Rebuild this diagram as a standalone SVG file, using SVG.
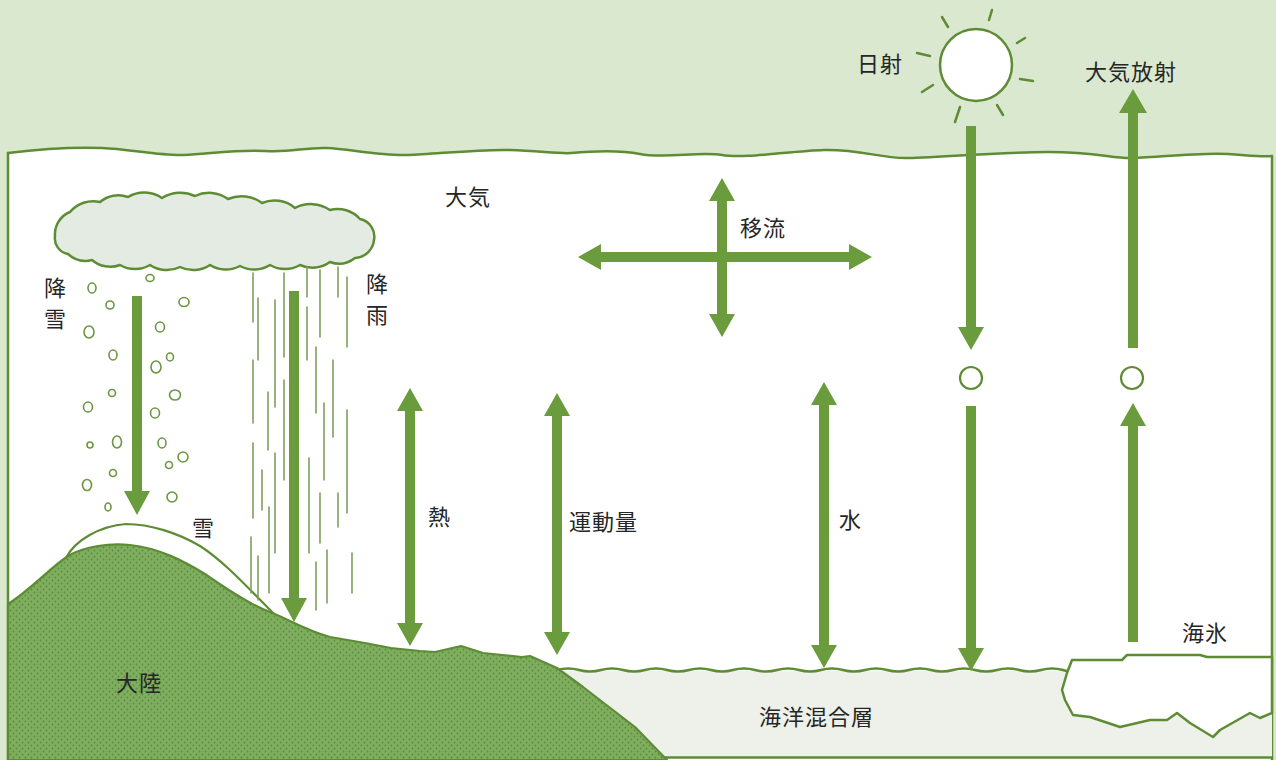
<svg xmlns="http://www.w3.org/2000/svg" width="1276" height="760" viewBox="0 0 1276 760">
  <defs>
    <pattern id="landDots" width="6" height="6" patternUnits="userSpaceOnUse">
      <rect width="6" height="6" fill="#7eae5e"/>
      <circle cx="1.5" cy="1.5" r="0.9" fill="#5a8a3b"/>
      <circle cx="4.5" cy="4.5" r="0.9" fill="#5a8a3b"/>
    </pattern>
    <style>
      .outline { fill: none; stroke: #5e8c35; stroke-width: 2.5; stroke-linejoin: round; stroke-linecap: round; }
      .flow { fill: #6a9c3e; }
      .rain { stroke: #7f9f5f; stroke-width: 1.6; stroke-linecap: round; }
      .flake { fill: #ffffff; stroke: #6a9640; stroke-width: 1.6; }
      .ray { stroke: #5e8c35; stroke-width: 2.5; stroke-linecap: round; }
      .ring { fill: #ffffff; stroke: #5e8c35; stroke-width: 2.2; }
      .label { font-family: "Noto Sans CJK JP", "Noto Sans", sans-serif; font-size: 22px; fill: #262626; letter-spacing: 1px; }
    </style>
  </defs>

  <!-- sky band and outer margin -->
  <rect id="sky" x="0" y="0" width="1276" height="760" fill="#dae8cf"/>

  <!-- atmosphere panel with a wavy upper boundary -->
  <g id="atmosphere">
    <path d="M8,153 C40,149 75,147 102,148 S160,156 184,155 S240,149 265,151 S305,147 327,148 S380,156 408,155 S480,149 510,150 S560,154 571,153 S615,149 640,154 S700,151 722,155 S790,151 824,150 S880,158 905,158 S1000,152 1048,152 S1110,158 1130,158 S1200,152 1228,154 S1262,157 1272,156 L1272,760 L8,760 Z" fill="#ffffff"/>
    <path class="outline" d="M8,153 C40,149 75,147 102,148 S160,156 184,155 S240,149 265,151 S305,147 327,148 S380,156 408,155 S480,149 510,150 S560,154 571,153 S615,149 640,154 S700,151 722,155 S790,151 824,150 S880,158 905,158 S1000,152 1048,152 S1110,158 1130,158 S1200,152 1228,154 S1262,157 1272,156"/>
    <line class="outline" x1="8" y1="153" x2="8" y2="760" stroke-width="2"/>
    <line class="outline" x1="1272" y1="156" x2="1272" y2="760" stroke-width="2"/>
  </g>

  <!-- ocean mixed layer -->
  <g id="ocean">
    <rect x="557" y="671" width="715" height="86" fill="#eef1ea"/>
    <line class="outline" x1="600" y1="757.5" x2="1272" y2="757.5" stroke-width="2"/>
    <path class="outline" stroke-width="2" d="M557,670 q11,-3 22,0 t22,0 t22,0 t22,0 t22,0 t22,0 t22,0 t22,0 t22,0 t22,0 t22,0 t22,0 t22,0 t22,0 t22,0 t22,0 t22,0 t22,0 t22,0 t22,0 t22,0 t22,0 t22,0 L1070,672"/>
  </g>

  <!-- snow cover on the mountain -->
  <g id="snowcap">
    <path d="M66,558 C75,540 100,526 126,524 C150,524 178,533 200,546 C225,562 250,590 274,614 L274,650 L66,650 Z" fill="#ffffff" stroke="#5e8c35" stroke-width="2.2" stroke-linejoin="round"/>
  </g>

  <!-- continent -->
  <g id="continent">
    <path d="M8,604 C30,590 50,568 68,556 C85,546 110,543 130,545 C160,548 185,562 205,574 C225,588 250,605 270,612 C290,620 305,630 330,637 L365,643 L391,648 L420,651 L435,652 L461,646 L483,653 L522,657 L530,656 L557,668 L583,687 L609,707 L635,727 L667,760 L8,760 Z" fill="url(#landDots)" stroke="#5e8c35" stroke-width="2.2" stroke-linejoin="round"/>
  </g>

  <!-- sea ice floe -->
  <g id="seaice">
    <path d="M1072,660 L1122,660 L1127,655 L1200,655 L1207,657 L1272,657 L1272,713 L1260,718 L1250,713 L1220,730 L1213,737 L1190,723 L1177,713 L1167,720 L1150,720 L1120,727 L1090,717 L1073,715 L1065,700 L1062,690 L1067,673 Z" fill="#ffffff" stroke="#5e8c35" stroke-width="2.5" stroke-linejoin="round"/>
  </g>

  <!-- cloud -->
  <g id="cloud">
    <path d="M55,236 A24,24 0 0 1 70,212 A30,30 0 0 1 100,202 A28,28 0 0 1 128,197 A32,32 0 0 1 162,198 A34,34 0 0 1 195,196 A32,32 0 0 1 228,199 A34,34 0 0 1 262,203 A32,32 0 0 1 295,208 A34,34 0 0 1 330,210 A30,30 0 0 1 360,219 A18,18 0 0 1 374,240 A20,20 0 0 1 355,258 A26,26 0 0 1 330,262 A30,30 0 0 1 300,265 A30,30 0 0 1 270,265 A30,30 0 0 1 240,266 A30,30 0 0 1 210,265 A30,30 0 0 1 180,267 A30,30 0 0 1 150,265 A30,30 0 0 1 120,265 A28,28 0 0 1 92,260 A26,26 0 0 1 68,254 A16,16 0 0 1 55,236 Z" fill="#e4ebe3" stroke="#5e8c35" stroke-width="2.5" stroke-linejoin="round"/>
  </g>

  <!-- rain streaks -->
  <g id="rain">
    <line class="rain" x1="253" y1="273" x2="253" y2="322"/>
    <line class="rain" x1="253" y1="360" x2="253" y2="423"/>
    <line class="rain" x1="253" y1="443" x2="253" y2="518"/>
    <line class="rain" x1="251" y1="537" x2="251" y2="593"/>
    <line class="rain" x1="258" y1="298" x2="258" y2="360"/>
    <line class="rain" x1="258" y1="556" x2="258" y2="600"/>
    <line class="rain" x1="262" y1="470" x2="262" y2="510"/>
    <line class="rain" x1="268" y1="392" x2="268" y2="450"/>
    <line class="rain" x1="269" y1="507" x2="269" y2="593"/>
    <line class="rain" x1="275" y1="300" x2="275" y2="407"/>
    <line class="rain" x1="275" y1="453" x2="275" y2="553"/>
    <line class="rain" x1="284" y1="273" x2="284" y2="357"/>
    <line class="rain" x1="284" y1="380" x2="284" y2="480"/>
    <line class="rain" x1="307" y1="267" x2="307" y2="297"/>
    <line class="rain" x1="307" y1="307" x2="307" y2="360"/>
    <line class="rain" x1="309" y1="458" x2="309" y2="553"/>
    <line class="rain" x1="316" y1="347" x2="316" y2="413"/>
    <line class="rain" x1="316" y1="562" x2="316" y2="610"/>
    <line class="rain" x1="320" y1="270" x2="320" y2="337"/>
    <line class="rain" x1="320" y1="493" x2="320" y2="543"/>
    <line class="rain" x1="324" y1="403" x2="324" y2="480"/>
    <line class="rain" x1="327" y1="550" x2="327" y2="603"/>
    <line class="rain" x1="333" y1="360" x2="333" y2="437"/>
    <line class="rain" x1="338" y1="267" x2="338" y2="297"/>
    <line class="rain" x1="338" y1="493" x2="338" y2="527"/>
    <line class="rain" x1="347" y1="277" x2="347" y2="347"/>
    <line class="rain" x1="347" y1="410" x2="347" y2="513"/>
    <line class="rain" x1="352" y1="553" x2="352" y2="593"/>
  </g>

  <!-- snowflakes -->
  <g id="snowfall">
    <ellipse class="flake" cx="150" cy="278" rx="4" ry="3.5"/>
    <ellipse class="flake" cx="92" cy="288" rx="4" ry="5"/>
    <ellipse class="flake" cx="110" cy="305" rx="4" ry="4"/>
    <ellipse class="flake" cx="184" cy="302" rx="5" ry="4.5"/>
    <ellipse class="flake" cx="89" cy="332" rx="5" ry="6"/>
    <ellipse class="flake" cx="160" cy="327" rx="4.5" ry="5"/>
    <ellipse class="flake" cx="113" cy="355" rx="4" ry="5"/>
    <ellipse class="flake" cx="170" cy="357" rx="3.5" ry="4"/>
    <ellipse class="flake" cx="156" cy="367" rx="5" ry="6"/>
    <ellipse class="flake" cx="112" cy="393" rx="3.5" ry="3.5"/>
    <ellipse class="flake" cx="175" cy="395" rx="5.5" ry="5"/>
    <ellipse class="flake" cx="88" cy="407" rx="4.5" ry="5"/>
    <ellipse class="flake" cx="155" cy="413" rx="4.5" ry="5"/>
    <ellipse class="flake" cx="90" cy="445" rx="3" ry="3"/>
    <ellipse class="flake" cx="117" cy="442" rx="4.5" ry="6"/>
    <ellipse class="flake" cx="162" cy="443" rx="4" ry="5"/>
    <ellipse class="flake" cx="183" cy="457" rx="5" ry="5"/>
    <ellipse class="flake" cx="169" cy="465" rx="3.5" ry="3.5"/>
    <ellipse class="flake" cx="113" cy="473" rx="3.5" ry="3.5"/>
    <ellipse class="flake" cx="87" cy="485" rx="4.5" ry="5.5"/>
    <ellipse class="flake" cx="172" cy="497" rx="5" ry="5"/>
    <ellipse class="flake" cx="108" cy="507" rx="3" ry="4"/>
  </g>

  <!-- sun -->
  <g id="sun">
    <circle cx="976" cy="65" r="36" fill="#ffffff" stroke="#5e8c35" stroke-width="2.5"/>
    <line class="ray" x1="917" y1="53" x2="930" y2="56"/>
    <line class="ray" x1="942" y1="17" x2="948" y2="27"/>
    <line class="ray" x1="992" y1="10" x2="989" y2="20"/>
    <line class="ray" x1="1017" y1="43" x2="1025" y2="38"/>
    <line class="ray" x1="1020" y1="79" x2="1033" y2="81"/>
    <line class="ray" x1="997" y1="105" x2="1003" y2="115"/>
    <line class="ray" x1="960" y1="107" x2="955" y2="122"/>
    <line class="ray" x1="922" y1="92" x2="933" y2="85"/>
  </g>

  <!-- exchange arrows -->
  <g id="connectors">
    <!-- snowfall -->
    <polygon class="flow" points="132,296 142,296 142,491 150,491 137,515 124,491 132,491"/>
    <!-- rainfall -->
    <polygon class="flow" points="289,291 299,291 299,598 307,598 294,622 281,598 289,598"/>
    <!-- heat -->
    <polygon class="flow" points="410,388 423,411 415,411 415,623 423,623 410,646 397,623 405,623 405,411 397,411"/>
    <!-- momentum -->
    <polygon class="flow" points="557,393 570,416 562,416 562,632 570,632 557,655 544,632 552,632 552,416 544,416"/>
    <!-- water -->
    <polygon class="flow" points="824,382 837,405 829,405 829,645 837,645 824,668 811,645 819,645 819,405 811,405"/>
    <!-- advection cross -->
    <polygon class="flow" points="722,178 735,201 727,201 727,314 735,314 722,337 709,314 717,314 717,201 709,201"/>
    <polygon class="flow" points="578,257 601,244 601,252 849,252 849,244 872,257 849,270 849,262 601,262 601,270"/>
    <!-- solar radiation -->
    <polygon class="flow" points="966,126 976,126 976,327 984,327 971,350 958,327 966,327"/>
    <circle class="ring" cx="971" cy="378" r="11"/>
    <polygon class="flow" points="966,406 976,406 976,648 984,648 971,671 958,648 966,648"/>
    <!-- atmospheric radiation -->
    <polygon class="flow" points="1133,89 1147,113 1138,113 1138,348 1128,348 1128,113 1119,113"/>
    <circle class="ring" cx="1132" cy="378" r="11"/>
    <polygon class="flow" points="1133,403 1146,426 1138,426 1138,642 1128,642 1128,426 1120,426"/>
  </g>

  <!-- labels -->
  <g id="labels">
    <text class="label" x="857" y="72">日射</text>
    <text class="label" x="1085" y="80">大気放射</text>
    <text class="label" x="445" y="205">大気</text>
    <text class="label" x="740" y="236">移流</text>
    <text class="label" x="44" y="296">降</text>
    <text class="label" x="44" y="327">雪</text>
    <text class="label" x="366" y="292">降</text>
    <text class="label" x="366" y="323">雨</text>
    <text class="label" x="428" y="525">熱</text>
    <text class="label" x="569" y="530">運動量</text>
    <text class="label" x="839" y="528">水</text>
    <text class="label" x="192" y="536">雪</text>
    <text class="label" x="116" y="691">大陸</text>
    <text class="label" x="759" y="725">海洋混合層</text>
    <text class="label" x="1182" y="641">海氷</text>
  </g>
</svg>
